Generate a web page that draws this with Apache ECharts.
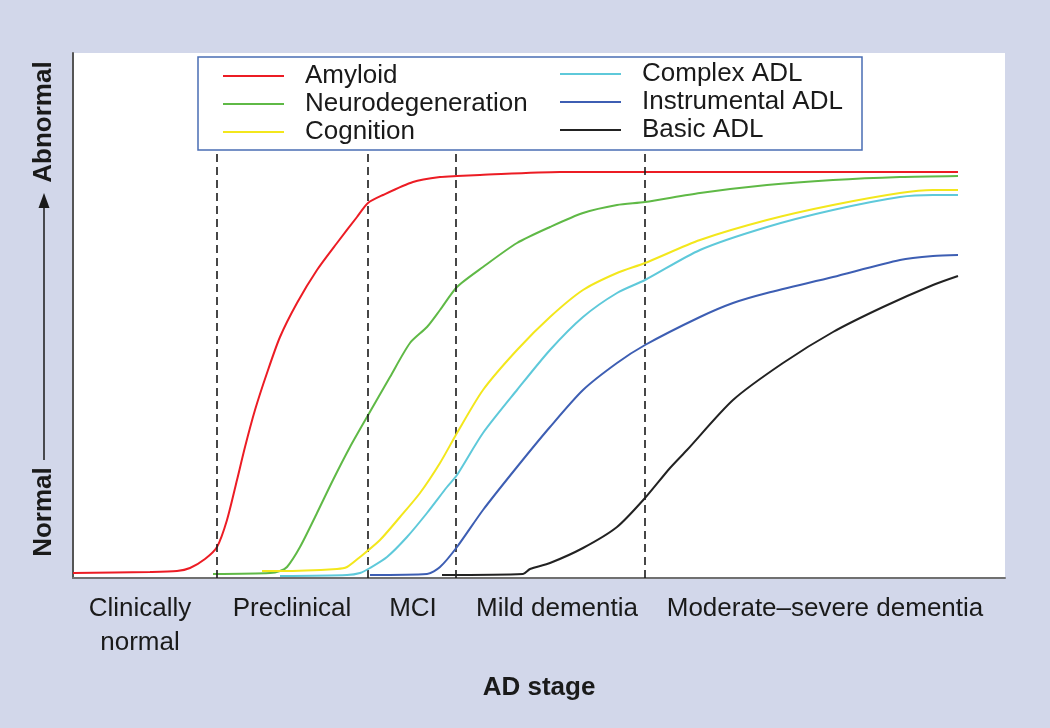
<!DOCTYPE html>
<html>
<head>
<meta charset="utf-8">
<script src="https://cdn.jsdelivr.net/npm/echarts@6/dist/echarts.min.js"></script>
<style>
html,body{margin:0;padding:0;background:#d2d7ea;}
#chart{width:1050px;height:728px;}
</style>
</head>
<body>
<div id="chart"></div>
<script>
// Stage labels and their centre positions along the AD course (x units)
const stageNames = ['Clinically\nnormal', 'Preclinical', 'MCI', 'Mild dementia', 'Moderate\u2013severe dementia'];
const stageLabelPos = [67, 219, 340, 484, 752];
// Stage boundaries (dashed lines)
const stageBoundaries = [144, 295, 383, 572];
const boundaryTop = 428;

const seriesNames = ['Amyloid', 'Neurodegeneration', 'Cognition', 'Complex ADL', 'Instrumental ADL', 'Basic ADL'];

// [x, level] — level 0 = normal, larger = abnormal
const amyloid = [[0,5],[77,6],[104,7],[117,10],[132,19],[144,31],[154,58],[164,98],[172,131],[182,168],[194,205],[207,241],[224,275],[244,308],[264,335],[284,361],[295,375],[310,383],[340,396],[367,401],[384,402],[407,403],[487,406],[885,406]];
const neurodegeneration = [[140,4],[197,5],[207,7],[214,11],[227,31],[244,65],[260,98],[277,131],[294,161],[317,201],[337,235],[354,251],[367,268],[384,291],[410,311],[444,335],[477,351],[510,365],[544,373],[572,376],[627,385],[694,393],[760,398],[827,401],[885,402]];
const cognition = [[189,7],[207,7],[264,9],[274,11],[287,21],[307,38],[327,61],[347,85],[367,115],[384,145],[410,188],[444,228],[477,261],[510,288],[544,305],[572,315],[627,338],[694,358],[760,373],[827,385],[860,388],[885,388]];
const complexADL = [[207,2],[274,3],[287,5],[297,10],[314,21],[334,41],[354,65],[374,91],[384,103],[410,145],[444,188],[477,228],[510,261],[544,285],[572,298],[627,328],[694,351],[760,368],[827,381],[860,383],[885,383]];
const instrumentalADL = [[297,3],[354,4],[367,11],[384,31],[410,68],[444,111],[477,151],[510,188],[544,215],[572,233],[627,261],[660,275],[694,285],[760,301],[827,318],[860,322],[885,323]];
const basicADL = [[369,3],[450,4],[457,9],[477,15],[510,30],[544,51],[572,80],[597,110],[614,128],[660,178],[710,215],[760,246],[810,271],[860,293],[885,302]];

const seriesData = [amyloid, neurodegeneration, cognition, complexADL, instrumentalADL, basicADL];
const colors = ['#ec1c24', '#5fb946', '#f3e71c', '#5ec9da', '#3d5eb3', '#222222'];

const FONT = '"Liberation Sans", Arial, Helvetica, sans-serif';

const chart = echarts.init(document.getElementById('chart'), null, {renderer: 'canvas'});

const series = seriesData.map((d, i) => ({
  name: seriesNames[i],
  type: 'line',
  data: d,
  smooth: 0.25,
  showSymbol: false,
  symbol: 'none',
  lineStyle: {color: colors[i], width: 2},
  itemStyle: {color: colors[i]},
  z: 3 + i
}));

series.push({
  name: 'boundaries',
  type: 'line',
  data: [],
  markLine: {
    silent: true,
    symbol: ['none', 'none'],
    label: {show: false},
    lineStyle: {color: '#1a1a1a', width: 1.6, type: [8, 5]},
    data: stageBoundaries.map(x => [{coord: [x, 0]}, {coord: [x, boundaryTop]}])
  },
  z: 2
});

const legendCommon = {
  orient: 'vertical',
  itemGap: 0,
  padding: 0,
  itemWidth: 61,
  itemHeight: 2,
  icon: 'rect',
  selectedMode: false,
  textStyle: {fontFamily: FONT, fontSize: 26, color: '#1a1a1a', lineHeight: 28, padding: [0, 0, 0, 16]},
  z: 10
};

const option = {
  animation: false,
  backgroundColor: '#d2d7ea',
  grid: {left: 73, right: 45, top: 53, bottom: 150, show: true, backgroundColor: '#ffffff', borderWidth: 0},
  xAxis: {
    type: 'value',
    min: 0,
    max: 932,
    axisLine: {show: true, lineStyle: {color: '#707070', width: 2}},
    axisTick: {show: false},
    splitLine: {show: false},
    axisLabel: {
      customValues: stageLabelPos,
      formatter: v => stageNames[stageLabelPos.indexOf(v)] || '',
      fontFamily: FONT,
      fontSize: 26,
      lineHeight: 34,
      color: '#1a1a1a',
      margin: 14,
      showMinLabel: true,
      showMaxLabel: true
    },
    name: 'AD stage',
    nameLocation: 'middle',
    nameGap: 97,
    nameTextStyle: {fontFamily: FONT, fontSize: 26, fontWeight: 'bold', color: '#1a1a1a'}
  },
  yAxis: {
    type: 'value',
    min: 0,
    max: 525,
    axisLine: {show: true, lineStyle: {color: '#555555', width: 2}},
    axisTick: {show: false},
    axisLabel: {show: false},
    splitLine: {show: false}
  },
  legend: [
    Object.assign({}, legendCommon, {left: 223, top: 62, data: seriesNames.slice(0, 3)}),
    Object.assign({}, legendCommon, {left: 560, top: 60, data: seriesNames.slice(3)})
  ],
  graphic: [
    {type: 'rect', z: 5, shape: {x: 198, y: 57, width: 664, height: 93},
     style: {fill: '#ffffff', stroke: '#4a6db4', lineWidth: 1.5}},
    {type: 'text', x: 44, y: 512, rotation: Math.PI / 2,
     style: {text: 'Normal', font: 'bold 26px ' + FONT, fill: '#1a1a1a', textAlign: 'center', textVerticalAlign: 'middle'}},
    {type: 'text', x: 44, y: 122, rotation: Math.PI / 2,
     style: {text: 'Abnormal', font: 'bold 26px ' + FONT, fill: '#1a1a1a', textAlign: 'center', textVerticalAlign: 'middle'}},
    {type: 'line', shape: {x1: 44, y1: 460, x2: 44, y2: 204}, style: {stroke: '#1a1a1a', lineWidth: 1.5}},
    {type: 'polygon', shape: {points: [[44, 193], [38.5, 208], [49.5, 208]]}, style: {fill: '#1a1a1a'}}
  ],
  series: series
};

chart.setOption(option);
</script>
</body>
</html>
